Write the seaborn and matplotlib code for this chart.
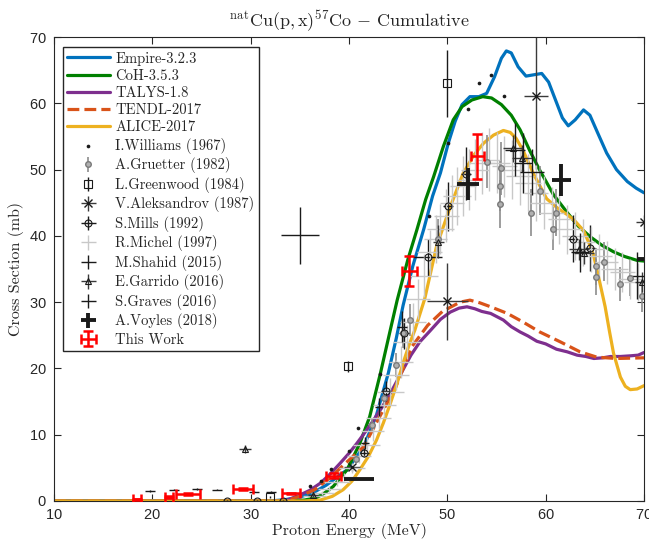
import matplotlib
matplotlib.use('Agg')
import matplotlib.pyplot as plt
import seaborn as sns

# ------------------- MODEL CURVES ----------------------------
empire_e = [10, 32, 33.5, 35.0, 36.3, 37.7, 39.8, 41.5, 42.8, 44.0, 44.8, 45.5, 46.5, 47.6, 48.5,
            49.3, 50.1, 50.8, 51.5, 52.3, 53.2, 54.0, 54.8, 55.5, 56.0, 56.5, 57.2, 58.0, 58.8,
            59.6, 60.3, 61.0, 61.7, 62.3, 63.0, 63.85, 64.5, 65.3, 66.2, 67.2, 68.3, 69.2, 70]
empire_xs = [0, 0, 0.2, 0.6, 1.2, 2.4, 4.7, 8.2, 13.0, 19.3, 24.5, 29.5, 35.5, 41.0, 46.0,
             49.5, 54.0, 57.3, 59.8, 61.0, 61.0, 61.5, 64.0, 66.8, 67.9, 67.6, 65.5, 64.1, 64.3,
             64.5, 63.2, 60.5, 57.8, 56.6, 57.5, 59.0, 58.2, 55.5, 52.5, 50.0, 48.2, 47.2, 46.5]

coh_e = [10, 34, 35.5, 36.7, 37.5, 38.4, 39.8, 41.1, 42.1, 43.2, 44.2, 44.9, 46.0, 46.9, 47.8,
         48.6, 49.6, 50.6, 51.5, 52.5, 53.6, 54.5, 55.5, 56.5, 57.4, 58.4, 59.4, 60.8, 62.2,
         63.3, 64.5, 65.7, 66.9, 68.0, 69.3, 70]
coh_xs = [0, 0, 0.15, 0.5, 1.2, 2.2, 4.7, 8.7, 12.7, 19.3, 25.8, 30.3, 36.5, 40.9, 45.5,
          48.9, 53.5, 57.5, 59.5, 60.5, 61.0, 60.8, 59.8, 58.2, 56.0, 52.8, 49.9, 46.2, 43.5,
          41.5, 39.9, 38.6, 37.6, 36.9, 36.3, 36.2]

talys_e = [10, 33.5, 35.0, 36.0, 37.1, 38.1, 39.1, 40.0, 40.8, 41.7, 42.5, 43.3, 44.3, 45.2,
           46.3, 47.2, 48.2, 49.3, 50.3, 51.2, 52.0, 52.8, 53.5, 54.4, 55.7, 56.5, 57.4, 58.2,
           59.1, 60.0, 61.1, 62.2, 63.2, 64.1, 64.9, 65.8, 66.6, 67.6, 68.6, 69.4, 70]
talys_xs = [0, 0, 0.9, 1.6, 2.7, 4.1, 5.7, 7.2, 8.7, 10.5, 12.2, 14.0, 16.5, 19.0,
            22.0, 24.0, 25.6, 27.4, 28.5, 29.1, 29.3, 29.0, 28.6, 28.3, 27.3, 26.3, 25.5, 24.9,
            24.1, 23.7, 22.9, 22.5, 22.0, 21.8, 21.5, 21.6, 21.8, 21.8, 21.9, 22.0, 22.4]

tendl_e = [10, 33.5, 35.0, 36.5, 38.0, 39.5, 41.5, 43.0, 44.7, 46.4, 48.0, 49.5, 51.3, 52.3,
           53.3, 54.4, 56.1, 57.7, 59.4, 61.5, 63.5, 65.2, 67.2, 70]
tendl_xs = [0, 0, 0.7, 1.7, 3.4, 5.5, 8.2, 12.4, 17.0, 23.3, 26.5, 28.6, 30.0, 30.3,
            29.9, 29.3, 28.3, 27.0, 25.5, 24.0, 22.5, 21.7, 21.5, 21.6]

alice_e = [10, 35.5, 37.1, 38.3, 39.4, 40.3, 41.1, 42.0, 42.8, 43.5, 44.2, 44.9, 45.5, 46.1,
           46.7, 47.7, 48.9, 50.3, 51.6, 52.7, 53.7, 54.7, 55.7, 56.4, 57.0, 57.7, 58.75,
           60.1, 61.2, 62.2, 63.0, 63.85, 64.5, 64.9, 65.5, 66.05, 66.5, 66.9, 67.6, 68.1,
           68.6, 69.3, 70]
alice_xs = [0, 0, 0.15, 0.7, 1.7, 3.0, 4.7, 6.8, 9.2, 11.8, 14.7, 17.8, 20.8, 23.5,
            25.8, 30.5, 38.4, 44.4, 49.4, 52.2, 54.0, 55.2, 55.9, 55.6, 54.7, 52.9, 49.4,
            45.6, 44.2, 43.2, 42.2, 40.8, 38.6, 36.9, 33.0, 29.3, 25.5, 22.3, 18.7, 17.3,
            16.8, 16.9, 17.4]

# ------------------- EXPERIMENTAL DATA ----------------------------
williams_e = [36.0, 37.2, 38.2, 40.0, 40.9, 43.2, 48.1, 50.1, 52.1, 53.2, 54.4, 55.8]
williams_xs = [2.2, 3.0, 4.9, 7.6, 11.0, 19.1, 43.0, 54.0, 59.1, 63.1, 64.2, 61.1]

gruetter_e = [40.7, 42.3, 43.6, 44.8, 45.5, 46.2, 49.1, 54.0, 55.5, 55.4, 55.4, 58.5, 59.4,
              60.7, 61.1, 65.1, 65.1, 65.9, 67.6, 68.6, 69.8]
gruetter_xs = [6.3, 11.5, 15.5, 20.5, 25.3, 27.3, 39.6, 51.2, 50.2, 47.5, 44.8, 43.5, 46.8,
               41.1, 43.5, 35.4, 33.8, 36.1, 32.7, 33.6, 31.0]
gruetter_err = [0.6, 1.0, 1.3, 1.8, 2.2, 2.4, 3.0, 4.0, 4.0, 3.8, 3.6, 3.5, 3.7,
                3.3, 3.5, 2.8, 2.7, 2.9, 2.6, 2.7, 2.5]

greenwood_e = [32.0, 39.9, 50.0]
greenwood_xs = [0.6, 20.3, 63.0]
greenwood_err = [0.2, 0.8, 5.0]

aleksandrov_e = [40.3, 50.0, 59.0, 70.0]
aleksandrov_xs = [5.1, 30.1, 61.1, 42.1]
aleksandrov_xerr = [0.8, 2.1, 1.2, 0.8]
aleksandrov_yerr = [0.6, 5.8, 11.0, 1.0]

mills_e = [27.6, 30.6, 33.3, 41.5, 43.8, 45.6, 48.0, 50.1, 51.9, 62.8, 64.5]
mills_xs = [0.05, 0.05, 0.05, 7.3, 16.6, 25.3, 36.8, 44.5, 49.4, 39.6, 38.2]
mills_xerr = [0.4, 0.4, 0.4, 0.5, 0.5, 0.5, 1.5, 0.5, 0.5, 0.5, 0.5]
mills_yerr = [0.1, 0.1, 0.1, 0.7, 1.5, 2.3, 2.8, 3.7, 4.0, 3.5, 3.5]

michel_e = [36.5, 37.3, 38.0, 38.8, 39.5, 40.3, 41.0, 41.8, 42.4, 43.0, 43.6, 44.2, 44.8,
            45.3, 45.9, 46.5, 47.0, 47.6, 48.2, 48.8, 49.3, 49.9, 50.5, 51.0, 51.6, 52.2,
            52.8, 53.5, 54.2, 55.0, 55.8, 56.6, 57.4, 58.2, 59.0, 59.8, 60.6, 61.4, 62.2,
            63.0, 63.8, 64.6, 65.4, 66.2, 67.0, 67.8, 68.6, 69.4]
michel_xs = [0.8, 1.2, 1.8, 2.8, 3.6, 5.0, 6.8, 8.5, 10.5, 12.5, 14.5, 16.5, 19.0,
             21.0, 24.0, 27.0, 30.5, 34.0, 37.5, 39.5, 41.0, 43.0, 45.0, 46.0, 47.5, 48.5,
             50.0, 51.0, 51.5, 51.0, 50.5, 50.0, 49.0, 48.0, 46.5, 45.0, 43.5, 42.5, 41.0,
             40.0, 39.0, 38.0, 37.0, 36.0, 35.0, 34.5, 33.5, 33.0]
michel_xerr = [1.2, 1.2, 1.2, 1.3, 1.2, 1.3, 1.2, 1.4, 1.2, 1.3, 1.2, 1.4, 1.3,
               1.2, 1.4, 1.3, 1.2, 1.4, 1.3, 1.2, 1.4, 1.3, 1.2, 1.4, 1.3, 1.2,
               1.4, 1.3, 1.2, 1.4, 1.3, 1.2, 1.4, 1.3, 1.2, 1.4, 1.3, 1.2, 1.4,
               1.3, 1.2, 1.4, 1.3, 1.2, 1.4, 1.3, 1.2, 1.4]
michel_yerr = [0.2, 0.3, 0.4, 0.5, 0.6, 0.8, 1.0, 1.2, 1.4, 1.6, 1.8, 2.0, 2.2,
               2.4, 2.6, 2.8, 3.0, 3.2, 3.4, 3.6, 3.8, 4.0, 4.2, 4.4, 4.5, 4.6,
               4.6, 4.7, 4.7, 4.6, 4.6, 4.5, 4.4, 4.3, 4.2, 4.0, 3.9, 3.8, 3.7,
               3.6, 3.5, 3.4, 3.3, 3.2, 3.1, 3.0, 3.0, 2.9]

shahid_e = [19.8, 22.2, 24.5, 26.6, 30.3, 32.1, 35.0]
shahid_xs = [1.5, 1.7, 1.8, 1.7, 1.4, 1.4, 40.1]
shahid_xerr = [0.5, 0.5, 0.5, 0.5, 0.5, 0.5, 1.9]
shahid_yerr = [0.1, 0.1, 0.1, 0.1, 0.1, 0.1, 4.3]

garrido_e = [29.4, 36.3, 49.1, 56.7, 57.6, 63.4, 63.9, 69.8]
garrido_xs = [7.9, 0.9, 39.1, 53.2, 51.7, 38.0, 37.4, 33.1]
garrido_xerr = [0.6, 0.5, 0.6, 1.0, 1.0, 1.0, 1.0, 0.7]
garrido_yerr = [0.6, 0.3, 2.5, 2.0, 2.0, 1.6, 1.6, 1.5]

graves_e = [41.6, 43.0, 45.4, 56.9, 57.7, 58.6, 63.5, 69.3]
graves_xs = [8.7, 14.2, 26.3, 53.0, 51.0, 49.6, 37.5, 34.0]
graves_xerr = [0.4, 0.4, 0.5, 1.0, 0.9, 1.2, 0.9, 0.8]
graves_yerr = [0.9, 1.4, 2.3, 4.0, 4.5, 3.5, 3.0, 3.5]

voyles_e = [41.0, 52.1, 61.6, 70.3]
voyles_xs = [3.3, 47.8, 48.4, 36.5]
voyles_xerr = [1.55, 1.15, 1.0, 1.0]
voyles_yerr = [0.2, 2.4, 2.4, 1.5]

thiswork_e = [18.4, 21.7, 23.6, 29.2, 34.1, 38.45, 46.15, 53.05]
thiswork_xs = [0.25, 0.65, 1.05, 1.75, 1.15, 3.8, 34.7, 52.0]
thiswork_xerr = [0.4, 0.4, 1.2, 1.0, 0.9, 0.75, 0.75, 0.65]
thiswork_yerr = [0.1, 0.15, 0.1, 0.15, 0.1, 0.4, 2.3, 3.4]

# ------------------- ESTILO ----------------------------
sns.set_theme(style='ticks')
plt.rcParams['font.family'] = ['cmr10', 'DejaVu Serif']
plt.rcParams['mathtext.fontset'] = 'cm'
plt.rcParams['axes.unicode_minus'] = False
plt.rcParams['axes.formatter.use_mathtext'] = True

fig = plt.figure(figsize=(6.49, 5.45), dpi=100)
ax = fig.add_axes([54 / 649, 44 / 545, 590 / 649, 464 / 545])

# ------------------- CURVAS ----------------------------
lw = 2.3
sns.lineplot(x=empire_e, y=empire_xs, color='#0072BD', lw=lw, label='Empire-3.2.3', ax=ax, estimator=None)
sns.lineplot(x=coh_e, y=coh_xs, color='#008000', lw=lw, label='CoH-3.5.3', ax=ax, estimator=None)
sns.lineplot(x=talys_e, y=talys_xs, color='#7E2F8E', lw=lw, label='TALYS-1.8', ax=ax, estimator=None)
sns.lineplot(x=tendl_e, y=tendl_xs, color='#D95319', lw=lw, ls='--', label='TENDL-2017', ax=ax, estimator=None)
sns.lineplot(x=alice_e, y=alice_xs, color='#EDB120', lw=lw, label='ALICE-2017', ax=ax, estimator=None)

# ------------------- DATOS ----------------------------
sns.scatterplot(x=williams_e, y=williams_xs, color='k', s=7, linewidth=0, label='I.Williams (1967)', ax=ax, zorder=5)
ax.errorbar(gruetter_e, gruetter_xs, yerr=gruetter_err, fmt='o', ms=4, color='#8c8c8c',
            mfc='#b0b0b0', mec='#7a7a7a', elinewidth=1.2, capsize=0, label='A.Gruetter (1982)')
ax.errorbar(greenwood_e, greenwood_xs, yerr=greenwood_err, fmt='s', ms=6, color='k',
            mfc='none', mec='k', mew=0.8, elinewidth=1.0, capsize=0, label='L.Greenwood (1984)')
ax.errorbar(aleksandrov_e, aleksandrov_xs, xerr=aleksandrov_xerr, yerr=aleksandrov_yerr, fmt='x',
            ms=6, color='#3a3a3a', mec='k', elinewidth=1.0, capsize=0, label='V.Aleksandrov (1987)')
ax.errorbar(mills_e, mills_xs, xerr=mills_xerr, yerr=mills_yerr, fmt='o', ms=5, color='k',
            mfc='none', mec='k', mew=0.8, elinewidth=1.0, capsize=0, label='S.Mills (1992)')
ax.errorbar(michel_e, michel_xs, xerr=michel_xerr, yerr=michel_yerr, fmt='none', color='#c8c8c8',
            elinewidth=1.0, capsize=0, label='R.Michel (1997)')
ax.errorbar(shahid_e, shahid_xs, xerr=shahid_xerr, yerr=shahid_yerr, fmt='none', color='k',
            elinewidth=1.0, capsize=0, label='M.Shahid (2015)')
ax.errorbar(garrido_e, garrido_xs, xerr=garrido_xerr, yerr=garrido_yerr, fmt='^', ms=4, color='#3a3a3a',
            mfc='none', mec='k', mew=0.8, elinewidth=1.0, capsize=0, label='E.Garrido (2016)')
ax.errorbar(graves_e, graves_xs, xerr=graves_xerr, yerr=graves_yerr, fmt='none', color='k',
            elinewidth=1.0, capsize=0, label='S.Graves (2016)')
ax.errorbar(voyles_e, voyles_xs, xerr=voyles_xerr, yerr=voyles_yerr, fmt='none', color='k',
            elinewidth=2.8, capsize=0, label='A.Voyles (2018)')
ax.errorbar(thiswork_e, thiswork_xs, xerr=thiswork_xerr, yerr=thiswork_yerr, fmt='none', color='#ff0000',
            elinewidth=1.8, capsize=3.5, capthick=1.8, label='This Work', zorder=6)

# ------------------- EJES ----------------------------
ax.set_xlim(10, 70)
ax.set_ylim(0, 70)
ax.set_xticks(range(10, 71, 10))
ax.set_yticks(range(0, 71, 10))
ax.tick_params(direction='in', top=True, right=True, length=5, width=0.8, color='#262626',
               labelsize=10.5, labelfontfamily='Liberation Sans', labelcolor='#262626', pad=5)
for sp in ax.spines.values():
    sp.set_color('#262626')
    sp.set_linewidth(0.8)

ax.set_xlabel('Proton Energy (MeV)', fontsize=11.5, labelpad=1)
ax.set_ylabel('Cross Section (mb)', fontsize=11.5, labelpad=4)
ax.set_title(r'$^{\rm nat}{\rm Cu(p,x)}^{57}{\rm Co}$ $-$ Cumulative', fontsize=13, pad=7)

handles, labels = ax.get_legend_handles_labels()
ax.legend(handles, labels, loc='upper left', bbox_to_anchor=(0.015, 0.978), borderaxespad=0,
          prop={'family': 'cmr10', 'size': 10.5}, frameon=True, fancybox=False, edgecolor='#262626',
          framealpha=1, handlelength=2.9, labelspacing=0.24, borderpad=0.3, handletextpad=0.4)

plt.savefig('out.png', dpi=100)
